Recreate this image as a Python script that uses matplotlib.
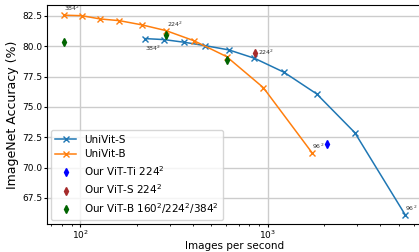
import matplotlib
matplotlib.use("Agg")
import matplotlib.pyplot as plt

# ------------------------------
# Data
# ------------------------------
univit_s_ips = [222, 280, 359, 464, 621, 851, 1222, 1828, 2918, 5412]
univit_s_acc = [80.63, 80.55, 80.33, 80.05, 79.70, 79.01, 77.86, 76.07, 72.88, 66.12]

univit_b_ips = [82, 102, 128, 162, 214, 287, 404, 604, 949, 1734]
univit_b_acc = [82.56, 82.52, 82.25, 82.11, 81.76, 81.29, 80.46, 79.15, 76.59, 71.18]

vit_ti_ips = [2070]
vit_ti_acc = [71.92]

vit_s_ips = [855]
vit_s_acc = [79.47]

vit_b_ips = [82, 287, 604]
vit_b_acc = [80.36, 80.90, 78.87]

# (text, x, y, dx, dy, va) - labels next to some points
notes = [
    ("384$^2$", univit_b_ips[0], univit_b_acc[0], 0, 1.5, "bottom"),
    ("224$^2$", univit_b_ips[5], univit_b_acc[5], 1, 1.5, "bottom"),
    ("96$^2$", univit_b_ips[-1], univit_b_acc[-1], 0, 1.5, "bottom"),
    ("384$^2$", univit_s_ips[0], univit_s_acc[0], 0, -4, "top"),
    ("224$^2$", vit_s_ips[0], vit_s_acc[0], 2, 0, "center"),
    ("96$^2$", univit_s_ips[-1], univit_s_acc[-1], 0, 1.5, "bottom"),
]

# ------------------------------
# Plot
# ------------------------------
fig = plt.figure(figsize=(4.19, 2.52), dpi=100)
ax = fig.add_axes([47 / 419, 28 / 252, 375 / 419, 219 / 252])

ax.plot(univit_s_ips, univit_s_acc, marker="x", color="#1f77b4", lw=1.1, ms=5, label="UniVit-S")
ax.plot(univit_b_ips, univit_b_acc, marker="x", color="#ff7f0e", lw=1.1, ms=5, label="UniVit-B")
ax.plot(vit_ti_ips, vit_ti_acc, "d", color="blue", ms=4, label="Our ViT-Ti 224$^2$")
ax.plot(vit_s_ips, vit_s_acc, "d", color="brown", ms=4, label="Our ViT-S 224$^2$")
ax.plot(vit_b_ips, vit_b_acc, "d", color="darkgreen", ms=4,
        label="Our ViT-B 160$^2$/224$^2$/384$^2$")

for txt, x, y, dx, dy, va in notes:
    ax.annotate(txt, (x, y), xytext=(dx, dy), textcoords="offset points",
                ha="left", va=va, fontsize=4.5, color="#333333")

ax.set_xscale("log")
ax.set_xlim(66.6, 6660)
ax.set_ylim(65.35, 83.4)
ax.set_yticks([67.5, 70.0, 72.5, 75.0, 77.5, 80.0, 82.5])
ax.grid(True, color="#cccccc", lw=1)
ax.set_axisbelow(True)
ax.tick_params(labelsize=6.5, length=2, pad=1.5)
ax.tick_params(axis="x", pad=1)
ax.tick_params(which="minor", length=1.2)
ax.spines["right"].set_visible(False)

ax.set_xlabel("Images per second", fontsize=7.5, labelpad=0.5)
ax.set_ylabel("ImageNet Accuracy (%)", fontsize=9)
ax.yaxis.set_label_coords(-0.074, 0.5)

ax.legend(loc="lower left", fontsize=7.5, labelspacing=0.45, borderaxespad=0.4)

fig.savefig("out.png", dpi=100)
